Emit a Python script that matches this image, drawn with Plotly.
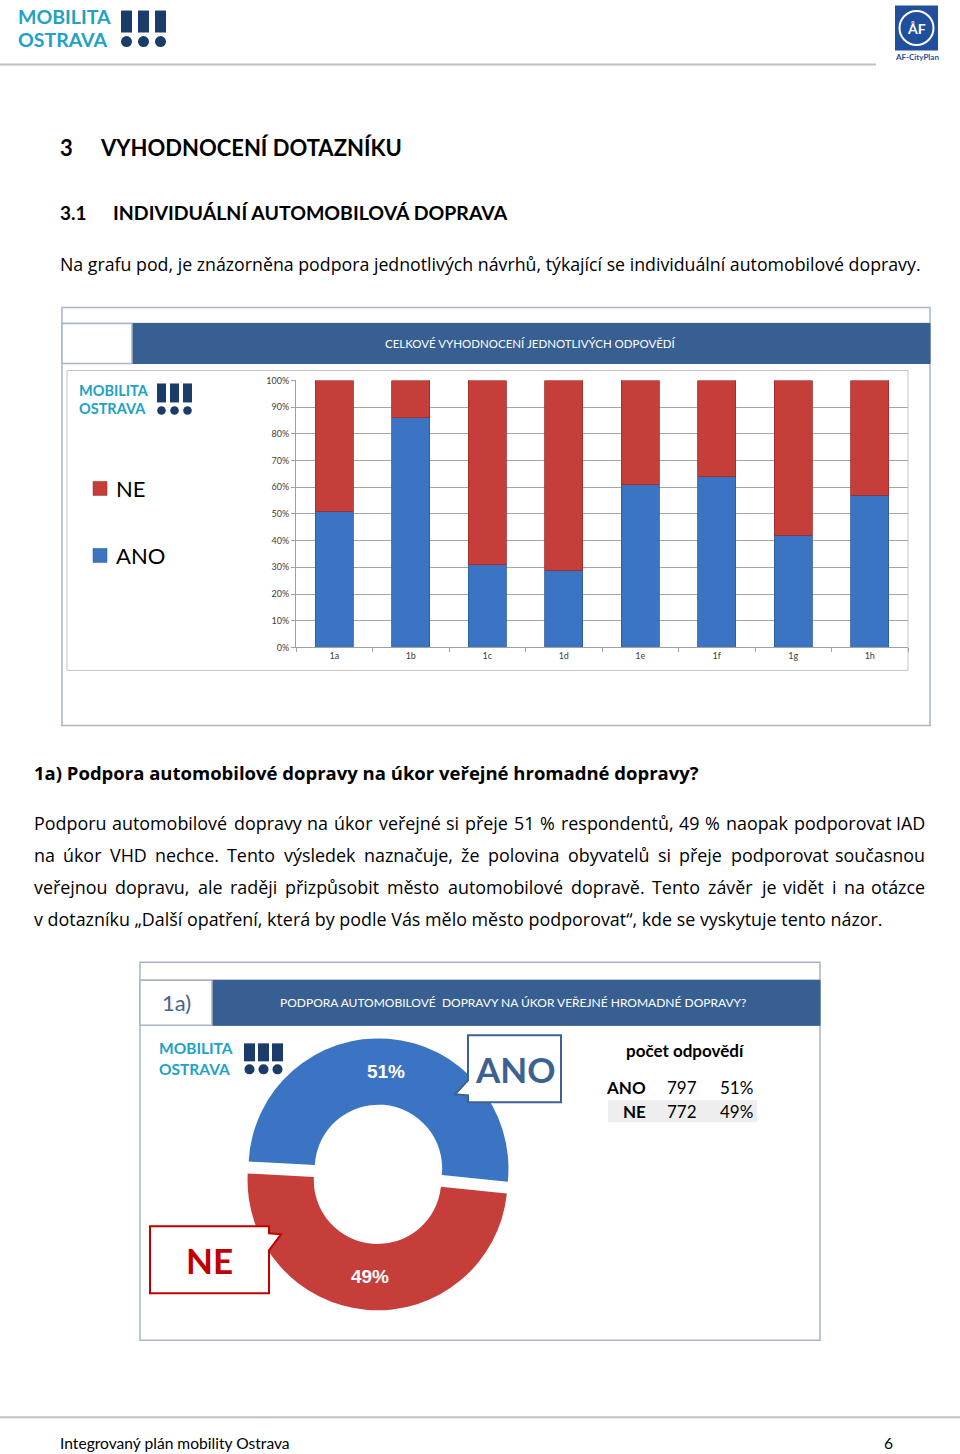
import unicodedata
import plotly.graph_objects as go

W, H = 960, 1454

# ---------------- data ----------------
categories = ["1a", "1b", "1c", "1d", "1e", "1f", "1g", "1h"]
ano_pct = [51, 86, 31, 29, 61, 64, 42, 57]
ne_pct = [49, 14, 69, 71, 39, 36, 58, 43]
y_tick_vals = [0, 10, 20, 30, 40, 50, 60, 70, 80, 90, 100]
y_tick_text = [f"{v}%" for v in y_tick_vals]

answer_labels = ["ANO", "NE"]
answer_counts = [797, 772]

# ---------------- helpers ----------------
# small vertical calibration of the page rendering
S_CAL, C_CAL = 0.9926, 739.0

def fx(x):
    return x / W

def fy(y):
    yc = C_CAL + (y - C_CAL) / S_CAL
    return 1 - yc / H

LATO = "Lato, 'Open Sans', sans-serif"
OPEN = "'Open Sans', 'Noto Sans', sans-serif"
BLUE = "#3a74c2"
RED = "#c63e3a"
BAND = "#375f92"
NAVY = "#1b3b68"
CYAN = "#20a2c6"

shapes = []
annotations = []

def rect(x0, y0, x1, y1, fill="rgba(0,0,0,0)", line="rgba(0,0,0,0)", lw=1, layer="below"):
    shapes.append(dict(type="rect", xref="paper", yref="paper",
                       x0=fx(x0), x1=fx(x1), y0=fy(y1), y1=fy(y0),
                       fillcolor=fill, line=dict(color=line, width=lw), layer=layer))

def hline(x0, x1, y, color, lw=1, layer="below"):
    shapes.append(dict(type="line", xref="paper", yref="paper",
                       x0=fx(x0), x1=fx(x1), y0=fy(y), y1=fy(y),
                       line=dict(color=color, width=lw), layer=layer))

def circle(cx, cy, r, fill, line="rgba(0,0,0,0)", lw=0, layer="above"):
    shapes.append(dict(type="circle", xref="paper", yref="paper",
                       x0=fx(cx - r), x1=fx(cx + r), y0=fy(cy + r), y1=fy(cy - r),
                       fillcolor=fill, line=dict(color=line, width=lw), layer=layer))

def path(points, fill, line, lw=2, layer="above"):
    d = "M " + " L ".join(f"{fx(x):.5f},{fy(y):.5f}" for x, y in points) + " Z"
    shapes.append(dict(type="path", xref="paper", yref="paper", path=d,
                       fillcolor=fill, line=dict(color=line, width=lw), layer=layer))

def text(x, y, s, size, color="#000000", bold=False, anchor="left", family=LATO):
    font = dict(size=size, color=color, family=family)
    if bold:
        font["weight"] = "bold"
    annotations.append(dict(xref="paper", yref="paper", x=fx(x), y=fy(y), text=s,
                            showarrow=False, xanchor=anchor, yanchor="middle",
                            borderpad=0, font=font))

# approximate Open Sans Regular advance widths (units per 2048 em), used to justify text
OS_W = {
    " ": 532, ",": 502, ".": 545, "%": 1696, "„": 727, "“": 727, "?": 879,
    "a": 1139, "b": 1255, "c": 975, "d": 1255, "e": 1149, "f": 694, "g": 1122, "h": 1257,
    "i": 518, "j": 518, "k": 1075, "l": 518, "m": 1905, "n": 1257, "o": 1237, "p": 1255,
    "q": 1255, "r": 836, "s": 977, "t": 723, "u": 1257, "v": 1026, "w": 1593, "x": 1073,
    "y": 1028, "z": 977,
    "A": 1296, "D": 1466, "H": 1485, "I": 621, "P": 1235, "T": 1128, "V": 1243,
}
for d in "0123456789":
    OS_W[d] = 1171

def word_width(word, size):
    tot = 0
    for ch in word:
        base = unicodedata.normalize("NFD", ch)[0]
        tot += OS_W.get(ch, OS_W.get(base, 1150))
    return tot / 2048 * size

def justified(x0, x1, y, line, size):
    words = line.split(" ")
    widths = [word_width(w, size) for w in words]
    gap = (x1 - x0 - sum(widths)) / (len(words) - 1)
    x = x0
    for i, (wd, wdt) in enumerate(zip(words, widths)):
        if i == len(words) - 1:
            text(x1, y, wd, size, "#000000", anchor="right", family=OPEN)
        else:
            text(x, y, wd, size, "#000000", family=OPEN)
        x += wdt + gap

def logo(tx, ty1, ty2, fsize, bx, bw, pitch, btop, bbot, dcy, dr):
    text(tx, ty1, "MOBILITA", fsize, CYAN, bold=True)
    text(tx, ty2, "OSTRAVA", fsize, CYAN, bold=True)
    for i in range(3):
        x0 = bx + i * pitch
        rect(x0, btop, x0 + bw, bbot, fill=NAVY, layer="above")
        circle(x0 + bw / 2, dcy, dr, NAVY)

# ---------------- page header ----------------
logo(17, 16, 39, 19.5, 121, 11, 17, 10, 32, 41, 5.5)
rect(895, 5, 938, 50, fill="#1f4f9d", layer="above")
circle(916.5, 27.5, 17, "rgba(0,0,0,0)", line="white", lw=2)
text(916.5, 28, "ÅF", 14, "white", bold=True, anchor="center")
text(916.5, 56, "AF-CityPlan", 8, "#1f4f9d", bold=True, anchor="center")
hline(0, 876, 64, "#c0c0c0", 2)

# ---------------- headings and text ----------------
text(59, 147, "3", 22, "#000000", bold=True)
text(99, 147, "VYHODNOCENÍ DOTAZNÍKU", 22, "#000000", bold=True)
text(59, 212, "3.1", 19, "#000000", bold=True)
text(112, 212, "INDIVIDUÁLNÍ AUTOMOBILOVÁ DOPRAVA", 19.5, "#000000", bold=True)
text(59, 264, "Na grafu pod, je znázorněna podpora jednotlivých návrhů, týkající se individuální automobilové dopravy.",
     17.75, "#000000", family=OPEN)

# ---------------- bar chart frame ----------------
rect(62, 307, 930, 725, line="#a9b4c4", lw=1.5)
hline(62, 930, 323, "#a9b4c4", 1.5)
rect(132, 323, 930, 363, fill=BAND, line=BAND, lw=1)
rect(62, 323, 132, 363, fill="white", line="#a9b4c4", lw=1.5)
text(530, 343, "CELKOVÉ VYHODNOCENÍ JEDNOTLIVÝCH ODPOVĚDÍ", 11.5, "white", anchor="center")
rect(67, 370, 908, 670, line="#c4c4c4", lw=1)
logo(78, 390, 408, 14.5, 157, 9, 13, 383, 402, 410, 4.3)
# legend
rect(93, 481, 107, 495, fill=RED, line="#9e2a28", lw=0.5, layer="above")
text(115, 488, "NE", 22, "#000000")
rect(93, 548, 107, 562, fill=BLUE, line="#2b5a99", lw=0.5, layer="above")
text(115, 555, "ANO", 22, "#000000")

# ---------------- section 1a text ----------------
text(33, 772, "1a) Podpora automobilové dopravy na úkor veřejné hromadné dopravy?", 18.5, "#000000",
     bold=True, family=OPEN)
para = [
    "Podporu automobilové dopravy na úkor veřejné si přeje 51 % respondentů, 49 % naopak podporovat IAD",
    "na úkor VHD nechce. Tento výsledek naznačuje, že polovina obyvatelů si přeje podporovat současnou",
    "veřejnou dopravu, ale raději přizpůsobit město automobilové dopravě. Tento závěr je vidět i na otázce",
    "v dotazníku „Další opatření, která by podle Vás mělo město podporovat“, kde se vyskytuje tento názor.",
]
for i, line in enumerate(para):
    yy = 823 + 32 * i
    if i < len(para) - 1:
        justified(33, 926, yy, line, 17.9)
    else:
        text(33, yy, line, 17.9, "#000000", family=OPEN)

# ---------------- donut chart frame ----------------
rect(140, 962, 820, 1340, line="#a9b4c4", lw=1.5)
hline(140, 820, 980, "#a9b4c4", 1.5)
rect(212, 980, 820, 1025, fill=BAND, line=BAND, lw=1)
rect(140, 980, 212, 1025, fill="white", line="#a9b4c4", lw=1.5)
text(176, 1002, "1a)", 22, "#44658f", anchor="center")
text(513, 1002, "PODPORA AUTOMOBILOVÉ  DOPRAVY NA ÚKOR VEŘEJNÉ HROMADNÉ DOPRAVY?", 12, "white", anchor="center")
logo(158, 1048, 1069, 15.5, 244, 11, 14, 1043, 1061, 1069, 5)

# callouts
path([(468, 1035), (561, 1035), (561, 1102), (468, 1102), (468, 1095), (455, 1094), (468, 1080)],
     "white", "#3d6190", 2)
text(515, 1069, "ANO", 35, "#3d6190", bold=True, anchor="center")
path([(150, 1226), (269, 1226), (269, 1233), (281, 1234), (269, 1250), (269, 1293), (150, 1293)],
     "white", "#c00000", 2)
text(209, 1260, "NE", 35, "#c00000", bold=True, anchor="center")

# table
text(685, 1050, "počet odpovědí", 17, "#000000", bold=True, anchor="center")
rect(608, 1100, 757, 1122, fill="#eeeeee", line="#eeeeee", lw=0)
total = sum(answer_counts)
for i, (lab, cnt) in enumerate(zip(answer_labels, answer_counts)):
    yy = 1087 + 24 * i
    text(647, yy, lab, 17, "#000000", bold=True, anchor="right")
    text(682, yy, str(cnt), 17, "#000000", anchor="center")
    text(754, yy, f"{round(100 * cnt / total)}%", 17, "#000000", anchor="right")

# ---------------- footer ----------------
hline(0, 960, 1417, "#c0c0c0", 2)
text(59, 1443, "Integrovaný plán mobility Ostrava", 15.6, "#000000")
text(894, 1443, "6", 15.6, "#000000", anchor="right")

# ---------------- traces ----------------
fig = go.Figure()
fig.add_trace(go.Bar(x=categories, y=ano_pct, name="ANO",
                     marker=dict(color=BLUE, line=dict(color="#2b5a99", width=0.8)),
                     showlegend=False, hoverinfo="skip"))
fig.add_trace(go.Bar(x=categories, y=ne_pct, name="NE",
                     marker=dict(color=RED, line=dict(color="#9e2a28", width=0.8)),
                     showlegend=False, hoverinfo="skip"))

cx, cy, half = 378, 1174, 136
fig.add_trace(go.Pie(
    labels=answer_labels, values=answer_counts,
    domain=dict(x=[fx(cx - half), fx(cx + half)], y=[fy(cy + half), fy(cy - half)]),
    hole=0.49, rotation=273, direction="clockwise", sort=False,
    pull=[0.046, 0.046],
    marker=dict(colors=[BLUE, RED], line=dict(color="white", width=0)),
    texttemplate="%{percent:.0%}", textposition="inside",
    insidetextorientation="horizontal",
    textfont=dict(family="Arial, 'Liberation Sans', sans-serif", size=19, color="white", weight="bold"),
    showlegend=False, hoverinfo="skip",
))

fig.update_layout(
    width=W, height=H,
    margin=dict(l=0, r=0, t=0, b=0),
    paper_bgcolor="white", plot_bgcolor="white",
    barmode="stack", bargap=0.5,
    showlegend=False,
    shapes=shapes, annotations=annotations,
    xaxis=dict(domain=[fx(296), fx(908)], anchor="y",
               showline=True, linecolor="#a0a0a0", linewidth=1,
               ticks="outside", tickson="boundaries", ticklen=4, tickcolor="#a0a0a0",
               tickfont=dict(size=9, color="#404040", family=LATO), showgrid=False,
               fixedrange=True),
    yaxis=dict(domain=[fy(647), fy(380)], anchor="x", range=[0, 100],
               tickmode="array", tickvals=y_tick_vals, ticktext=y_tick_text,
               showline=True, linecolor="#a0a0a0", linewidth=1,
               ticks="outside", ticklen=4, tickcolor="#a0a0a0",
               gridcolor="#a6a6a6", gridwidth=1,
               tickfont=dict(size=9, color="#404040", family=LATO),
               fixedrange=True),
)

fig.write_html("out.html",
               config={"displayModeBar": False, "staticPlot": True},
               post_script="document.body.style.margin='0';document.body.style.overflow='hidden';")
